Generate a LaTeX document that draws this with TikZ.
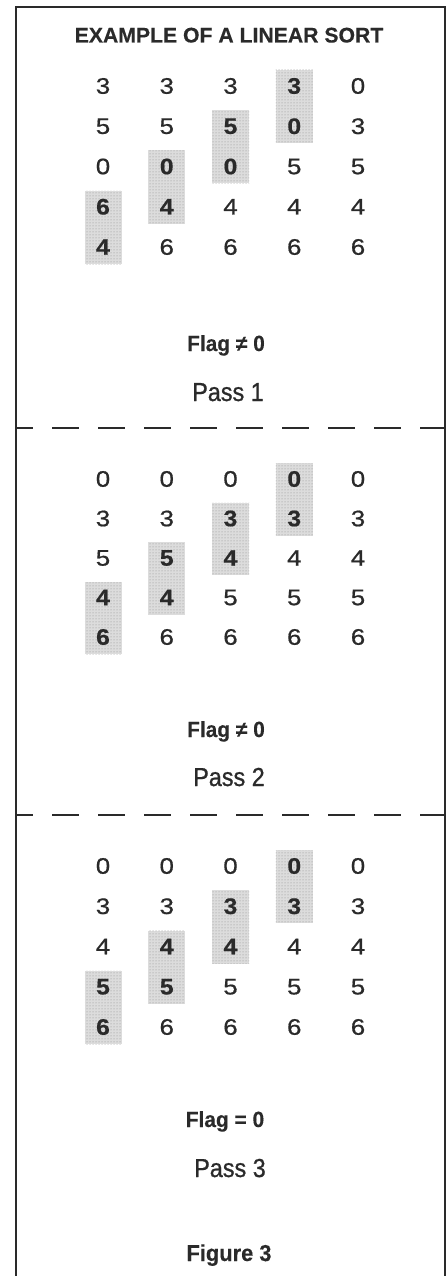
\documentclass[tikz,border=0pt]{standalone}
\usepackage{fontspec}
\usetikzlibrary{patterns}
\setmainfont{Liberation Sans}
\newfontfamily\digitfont[FakeStretch=1.15,FakeBold=0.7]{Liberation Sans}
\newfontfamily\hidigitfont[FakeStretch=1.1,FakeBold=0.6]{Liberation Sans Bold}
\newfontfamily\passfont[FakeStretch=0.9,FakeBold=0.9]{Liberation Sans}
\newfontfamily\labelfont[FakeStretch=0.95,FakeBold=0.3]{Liberation Sans Bold}
\newfontfamily\titlefont[FakeBold=0.3]{Liberation Sans Bold}
\definecolor{ink}{HTML}{2A2A2A}
\definecolor{shade}{HTML}{DCDCDC}
\newcommand\drawpass[4]{%
  % #1 pass number, #2 first row y, #3 row step, #4 rows
  \foreach \c in {1,...,4}{%
    \pgfmathsetmacro\bx{103+63.75*(\c-1)}%
    \pgfmathsetmacro\by{#2+#3*(4.5-\c)+0.5}%
    \pgfmathsetmacro\bh{#3+33}%
    \node[shadebox, minimum height=\bh pt] (p#1b\c) at (\bx,\by) {};
  }
  \foreach \row [count=\r] in {#4}{%
    \foreach \v [count=\c] in \row {%
      \pgfmathsetmacro\dx{103+63.75*(\c-1)}%
      \pgfmathsetmacro\dy{#2+#3*(\r-1)}%
      \pgfmathtruncatemacro\hl{((\r+\c==5)||((\r+\c==6)&&(\c<5)))?1:0}%
      \ifnum\hl=1
        \node[hidigit] (p#1r\r c\c) at (\dx,\dy) {\v};
      \else
        \node[digit] (p#1r\r c\c) at (\dx,\dy) {\v};
      \fi
    }
  }
}
\begin{document}
\begin{tikzpicture}[x=1pt,y=-1pt,
  digit/.style={inner sep=0pt, text=ink, font=\fontsize{22.5}{22.5}\selectfont\digitfont},
  hidigit/.style={inner sep=0pt, text=ink, font=\fontsize{22.5}{22.5}\selectfont\hidigitfont},
  shadebox/.style={fill=shade, draw=none, inner sep=0pt, minimum width=37pt,
    postaction={pattern=dots, pattern color=black!45}},
  frame/.style={draw=ink, line width=2pt},
  sep/.style={draw=ink, line width=2.4pt, dash pattern=on 27pt off 19pt, dash phase=10pt},
  title/.style={anchor=base, inner sep=0pt, text=ink, font=\fontsize{21.2}{21.2}\selectfont\titlefont},
  flag/.style={anchor=base, inner sep=0pt, text=ink, font=\fontsize{22}{22}\selectfont\labelfont},
  pass/.style={anchor=base, inner sep=0pt, text=ink, font=\fontsize{26}{26}\selectfont\passfont},
  figlabel/.style={anchor=base, inner sep=0pt, text=ink, font=\fontsize{23}{23}\selectfont\labelfont}
]
\useasboundingbox (0,0) rectangle (446,1276);
\coordinate (bl) at (16,1276);
\coordinate (tl) at (16,7);
\coordinate (tr) at (444.5,7);
\coordinate (br) at (444.5,1276);
\draw[frame] (bl) -- (tl) -- (tr) -- (br);
\coordinate (s1l) at (16,428);
\coordinate (s1r) at (444.5,428);
\coordinate (s2l) at (16,815);
\coordinate (s2r) at (444.5,815);
\draw[sep] (s1l) -- (s1r);
\draw[sep] (s2l) -- (s2r);

\node[title] (title) at (229,42.5) {EXAMPLE OF A LINEAR SORT};

\drawpass{1}{86}{40.25}{{3,3,3,3,0},{5,5,5,0,3},{0,0,0,5,5},{6,4,4,4,4},{4,6,6,6,6}}
\drawpass{2}{479}{39.5}{{0,0,0,0,0},{3,3,3,3,3},{5,5,4,4,4},{4,4,5,5,5},{6,6,6,6,6}}
\drawpass{3}{866}{40.25}{{0,0,0,0,0},{3,3,3,3,3},{4,4,4,4,4},{5,5,5,5,5},{6,6,6,6,6}}

\node[flag] (flag1) at (226,351) {Flag ≠ 0};
\node[pass] (pass1) at (228,401) {Pass 1};
\node[flag] (flag2) at (226,737) {Flag ≠ 0};
\node[pass] (pass2) at (229,786) {Pass 2};
\node[flag] (flag3) at (225,1127) {Flag = 0};
\node[pass] (pass3) at (230,1177) {Pass 3};
\node[figlabel] (fig) at (229,1261) {Figure 3};
\end{tikzpicture}
\end{document}
